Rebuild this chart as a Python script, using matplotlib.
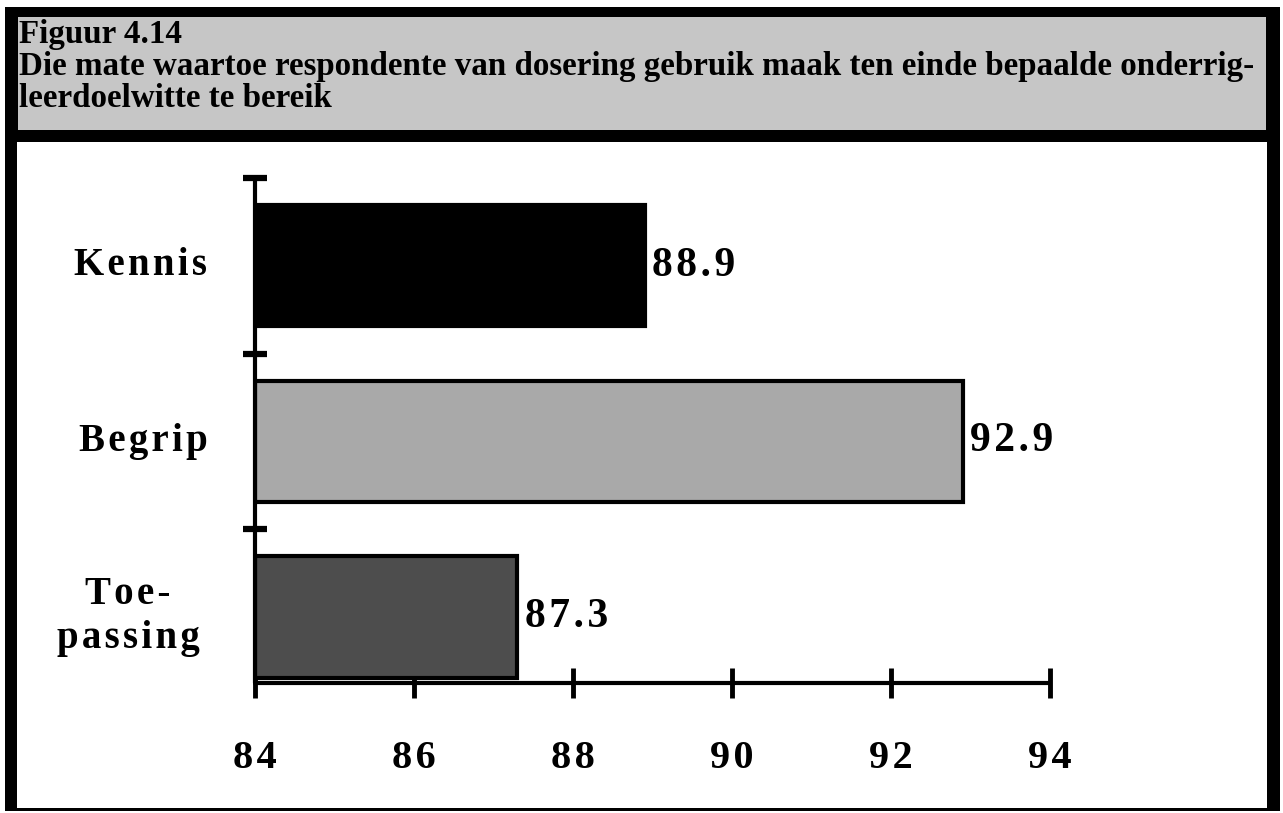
import matplotlib
matplotlib.use("Agg")
import matplotlib.pyplot as plt
from matplotlib.patches import Rectangle
from matplotlib.transforms import blended_transform_factory

# Data
categories = ["Kennis", "Begrip", "Toe-\npassing"]
values = [88.9, 92.9, 87.3]
bar_colors = ["#000000", "#a9a9a9", "#4d4d4d"]
x_ticks = [84, 86, 88, 90, 92, 94]
title_lines = [
    "Figuur 4.14",
    "Die mate waartoe respondente van dosering gebruik maak ten einde bepaalde onderrig-",
    "leerdoelwitte te bereik",
]

W, H = 1283, 813
HAIR = "\u200a"
plt.rcParams["font.family"] = ["Liberation Serif", "DejaVu Serif"]
plt.rcParams["font.weight"] = "bold"

fig = plt.figure(figsize=(W / 100, H / 100), dpi=100)
fig.patch.set_facecolor("white")


def px_rect(x0, y0, x1, y1, color):
    # rectangle in pixel coords measured from the top-left corner
    fig.patches.append(Rectangle((x0 / W, 1 - y1 / H), (x1 - x0) / W, (y1 - y0) / H,
                                 transform=fig.transFigure, facecolor=color,
                                 edgecolor="none", zorder=0))


# ── Frame and header band ──
px_rect(5, 7, 1280, 142, "black")
px_rect(18, 17, 1266, 130, "#c6c6c6")
px_rect(5, 142, 17, 810, "black")
px_rect(1267, 142, 1280, 810, "black")
px_rect(5, 808, 1280, 811, "black")

baselines = [43, 75, 107]
for txt, yy in zip(title_lines, baselines):
    fig.text(19 / W, 1 - yy / H, txt, fontsize=23.8, fontweight="bold",
             ha="left", va="baseline", color="black")

# ── Bar chart ──
ax = fig.add_axes([255 / W, 130 / H, 795 / W, 505 / H])
ypos = [2, 1, 0]
ax.barh(ypos, [v - 84 for v in values], left=84, height=0.69,
        color=bar_colors, edgecolor="black", linewidth=3, zorder=2)

ax.set_xlim(84, 94)
ax.set_ylim(-0.376, 2.5)
ax.set_xticks(x_ticks)
ax.set_xticklabels([HAIR.join(str(t)) for t in x_ticks])
ax.set_yticks([0.5, 1.5, 2.5])
ax.set_yticklabels([])

for side in ["top", "right"]:
    ax.spines[side].set_visible(False)
for side in ["left", "bottom"]:
    ax.spines[side].set_linewidth(3)
    ax.spines[side].set_capstyle("round")

ax.tick_params(axis="x", direction="inout", length=22, width=3.5, pad=30,
               labelsize=29)
ax.tick_params(axis="y", direction="inout", length=17, width=4.5)
for lab in ax.get_xticklabels():
    lab.set_fontweight("bold")

# value labels next to the bars
for y, v in zip(ypos, values):
    ax.text(v + 0.1, y, HAIR.join(f"{v:.1f}"), fontsize=30, fontweight="bold",
            ha="left", va="center", zorder=3)

# category labels in the left margin
label_x = [140, 143, 128]
trans = blended_transform_factory(fig.transFigure, ax.transData)
for y, cat, lx in zip(ypos, categories, label_x):
    txt = "\n".join(HAIR.join(part) for part in cat.split("\n"))
    ax.text(lx / W, y, txt, transform=trans, fontsize=28, fontweight="bold",
            ha="center", va="center", linespacing=1.25)

fig.savefig("out.png", dpi=100, facecolor="white")
